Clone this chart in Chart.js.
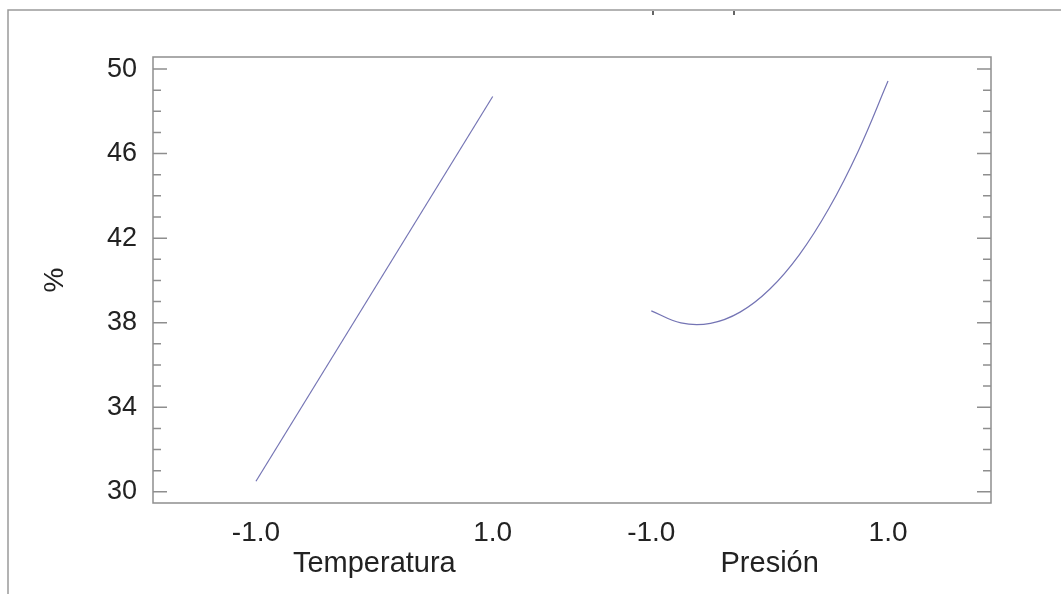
<html>

<head>
    <title>Efectos principales</title>
    <script src="https://cdn.jsdelivr.net/npm/chart.js@4/dist/chart.umd.min.js"></script>
    <style>
        body { margin: 0; background: #fff; }
    </style>
</head>

<body>
    <canvas id="effects" width="1061" height="594"></canvas>
    <script>

        // factor levels (coded) and % response
        const tempX = [-1, 1];
        const tempY = [30.5, 48.7];
        const presX = [-1, -0.75, -0.5, -0.25, 0, 0.25, 0.5, 0.75, 1];
        const presY = [38.56, 37.99, 37.97, 38.50, 39.58, 41.21, 43.40, 46.14, 49.43];

        const factorNames = ["Temperatura", "Presión"];
        const yTicks = [30, 34, 38, 42, 46, 50];
        const xTickLabels = ["-1.0", "1.0", "-1.0", "1.0"];

        // the second factor is drawn to the right of the first one on the same axis
        const pOffset = 3.34;
        const xPad = 1.87;

        const font = "Liberation Sans, Arial, sans-serif";
        const frameColor = '#8e8e8e';

        let frame = {
            id: 'frame',
            afterDraw(chart) {
                const c = chart.ctx;
                const a = chart.chartArea;
                const y = chart.scales.y;
                const x = chart.scales.x;
                c.save();

                // outer border of the picture
                c.strokeStyle = '#9a9a9a';
                c.lineWidth = 1.5;
                c.beginPath();
                c.moveTo(8, 594);
                c.lineTo(8, 10);
                c.lineTo(1061, 10);
                c.stroke();
                c.strokeStyle = '#333';
                c.lineWidth = 1.5;
                c.beginPath();
                c.moveTo(653, 11); c.lineTo(653, 15);
                c.moveTo(734, 11); c.lineTo(734, 15);
                c.stroke();

                // plot box
                c.strokeStyle = frameColor;
                c.lineWidth = 1.5;
                c.strokeRect(a.left, a.top, a.right - a.left, a.bottom - a.top);

                // inward ticks left and right
                c.beginPath();
                for (let v = 30; v <= 50; v++) {
                    const py = y.getPixelForValue(v);
                    const len = (v - 30) % 4 === 0 ? 14 : 8;
                    c.moveTo(a.left, py); c.lineTo(a.left + len, py);
                    c.moveTo(a.right, py); c.lineTo(a.right - len, py);
                }
                c.stroke();

                // factor names
                c.fillStyle = '#222';
                c.font = "29px " + font;
                c.textAlign = 'center';
                c.textBaseline = 'alphabetic';
                c.fillText(factorNames[0], x.getPixelForValue(0), 572);
                c.fillText(factorNames[1], x.getPixelForValue(pOffset), 572);

                // y title
                c.font = "28px " + font;
                c.translate(55, (a.top + a.bottom) / 2);
                c.rotate(-Math.PI / 2);
                c.textBaseline = 'middle';
                c.fillText("%", 0, 0);
                c.restore();
            }
        };

        let ctx = document.getElementById('effects').getContext('2d');
        let chart = new Chart(ctx, {
            type: 'line',
            data: {
                datasets: [{
                    label: factorNames[0],
                    data: tempX.map((v, i) => ({ x: v, y: tempY[i] })),
                    borderColor: '#7474b4',
                    borderWidth: 1.2,
                    pointRadius: 0,
                    fill: false
                }, {
                    label: factorNames[1],
                    data: presX.map((v, i) => ({ x: v + pOffset, y: presY[i] })),
                    borderColor: '#7474b4',
                    borderWidth: 1.2,
                    pointRadius: 0,
                    tension: 0.4,
                    fill: false
                }]
            },
            options: {
                animation: false,
                responsive: false,
                events: [],
                layout: {
                    padding: { top: 57, right: 70, left: 0, bottom: 0 }
                },
                plugins: {
                    legend: { display: false },
                    tooltip: { enabled: false }
                },
                scales: {
                    x: {
                        type: 'linear',
                        min: -xPad,
                        max: pOffset + xPad,
                        grid: { display: false, drawTicks: false },
                        border: { display: false },
                        afterBuildTicks: function (s) {
                            s.ticks = [-1, 1, pOffset - 1, pOffset + 1].map(v => ({ value: v }));
                        },
                        afterFit: function (s) { s.height = 91; },
                        ticks: {
                            autoSkip: false,
                            maxRotation: 0,
                            padding: 13,
                            color: '#222',
                            font: { family: font, size: 28 },
                            callback: function (v, i) { return xTickLabels[i]; }
                        }
                    },
                    y: {
                        min: 29.47,
                        max: 50.57,
                        grid: { display: false, drawTicks: false },
                        border: { display: false },
                        afterBuildTicks: function (s) {
                            s.ticks = yTicks.map(v => ({ value: v }));
                        },
                        afterFit: function (s) { s.width = 153; },
                        ticks: {
                            padding: 16,
                            color: '#222',
                            font: { family: font, size: 27 },
                            callback: function (v) { return String(v); }
                        }
                    }
                }
            },
            plugins: [frame]
        });
    </script>
</body>

</html>
